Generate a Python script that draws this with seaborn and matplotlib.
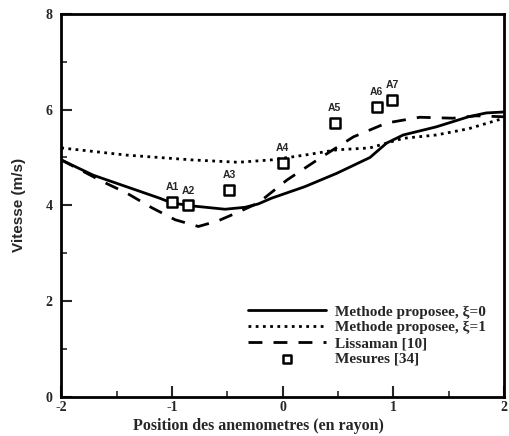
import numpy as np
import pandas as pd
import matplotlib
matplotlib.use("Agg")
import matplotlib.pyplot as plt
import seaborn as sns
from matplotlib.ticker import MultipleLocator

# Methode proposee, xi = 0
x_xi0 = [-2.0, -1.71, -1.41, -1.11, -1.0, -0.82, -0.52, -0.34, -0.22, -0.1, 0.2, 0.49, 0.79, 0.94, 1.09, 1.39, 1.68, 1.84, 2.0]
v_xi0 = [4.95, 4.63, 4.39, 4.15, 4.05, 3.99, 3.92, 3.96, 4.03, 4.15, 4.39, 4.67, 5.0, 5.3, 5.47, 5.64, 5.85, 5.93, 5.95]

# Methode proposee, xi = 1
x_xi1 = [-2.0, -1.41, -0.82, -0.4, -0.1, 0.2, 0.49, 0.79, 0.94, 1.09, 1.39, 1.68, 2.0]
v_xi1 = [5.2, 5.05, 4.95, 4.9, 4.95, 5.05, 5.16, 5.2, 5.3, 5.4, 5.47, 5.6, 5.82]

# Lissaman [10]
x_liss = [-2.0, -1.62, -1.41, -1.18, -0.97, -0.76, -0.58, -0.4, -0.22, 0.04, 0.34, 0.64, 0.94, 1.24, 1.54, 1.75, 2.0]
v_liss = [4.95, 4.49, 4.26, 3.95, 3.7, 3.56, 3.68, 3.86, 4.05, 4.53, 4.99, 5.43, 5.72, 5.84, 5.82, 5.87, 5.85]

# Mesures [34]
x_mes = [-1.0, -0.85, -0.48, 0.0, 0.47, 0.85, 0.99]
v_mes = [4.07, 4.0, 4.32, 4.89, 5.72, 6.05, 6.2]
lab_mes = ["A1", "A2", "A3", "A4", "A5", "A6", "A7"]

x_ticks = [-2, -1, 0, 1, 2]
y_ticks = [0, 2, 4, 6, 8]

sns.set_style("ticks")
plt.rcParams["font.family"] = ["Liberation Serif", "DejaVu Serif"]
plt.rcParams["font.weight"] = "bold"
plt.rcParams["axes.labelweight"] = "bold"

fig = plt.figure(figsize=(5.1, 4.36), dpi=100)
ax = fig.add_axes([0.12, 0.0894, 0.868, 0.879])

df0 = pd.DataFrame({"x": x_xi0, "v": v_xi0})
df1 = pd.DataFrame({"x": x_xi1, "v": v_xi1})
dfl = pd.DataFrame({"x": x_liss, "v": v_liss})
dfm = pd.DataFrame({"x": x_mes, "v": v_mes})

sns.lineplot(data=df0, x="x", y="v", ax=ax, color="black", lw=2.0,
             sort=False, label="Methode proposee, \u03be=0")
sns.lineplot(data=df1, x="x", y="v", ax=ax, color="black", lw=2.0,
             linestyle=(0, (1, 1.6)), sort=False, label="Methode proposee, \u03be=1")
sns.lineplot(data=dfl, x="x", y="v", ax=ax, color="black", lw=2.0,
             linestyle=(0, (5, 4)), sort=False, label="Lissaman [10]")
sns.scatterplot(data=dfm, x="x", y="v", ax=ax, marker="s", s=60,
                facecolor="white", edgecolor="black", linewidth=1.8,
                label="Mesures [34]", zorder=5)

for xi, vi, t in zip(x_mes, v_mes, lab_mes):
    ax.annotate(t, (xi, vi), xytext=(0, 7), textcoords="offset points",
                ha="center", va="bottom", fontsize=7.5, fontweight="bold",
                family=["Liberation Sans", "DejaVu Sans"])

ax.set_xlim(-2, 2)
ax.set_ylim(0, 8)
ax.set_xticks(x_ticks)
ax.set_yticks(y_ticks)
ax.set_xticklabels([str(t) for t in x_ticks])
ax.set_yticklabels([str(t) for t in y_ticks])
ax.xaxis.set_minor_locator(MultipleLocator(0.5))
ax.yaxis.set_minor_locator(MultipleLocator(1))
ax.tick_params(axis="both", which="major", direction="in", length=8, width=1.5,
               labelsize=10, top=False, right=False)
ax.tick_params(axis="y", which="major", pad=6)
ax.tick_params(axis="x", which="major", pad=3)
ax.tick_params(axis="both", which="minor", direction="in", length=4, width=1.2,
               top=False, right=False)
for lab in ax.get_xticklabels() + ax.get_yticklabels():
    lab.set_fontweight("bold")

for s in ax.spines.values():
    s.set_visible(True)
    s.set_linewidth(2.0)
    s.set_color("black")

ax.set_xlabel("Position des anemometres (en rayon)", fontsize=11.5,
              fontweight="bold", labelpad=1)
ax.xaxis.set_label_coords(0.445, -0.055)
ax.set_ylabel("Vitesse (m/s)", fontsize=11, fontweight="bold",
              family=["Liberation Sans", "DejaVu Sans"])
ax.yaxis.set_label_coords(-0.08, 0.5)

leg = ax.legend(loc="upper left", bbox_to_anchor=(0.423, 0.24), frameon=False,
                handlelength=5.1, handletextpad=0.55, labelspacing=0.13,
                borderaxespad=0, borderpad=0,
                prop={"weight": "bold", "size": 11})
leg.legend_handles[3].set_sizes([40])

fig.savefig("out.png", dpi=100)
